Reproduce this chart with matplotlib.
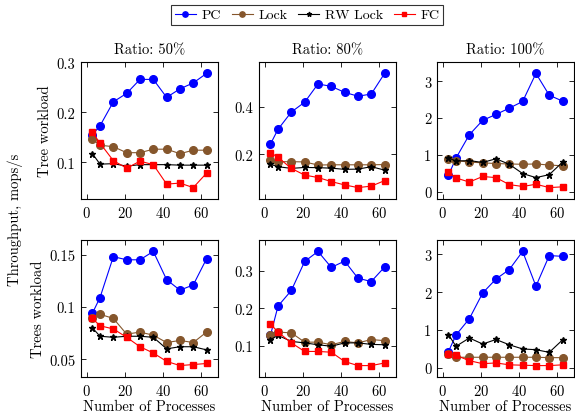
import matplotlib
matplotlib.use("Agg")
import matplotlib.pyplot as plt
from matplotlib.ticker import MultipleLocator, FuncFormatter

plt.rcParams['font.family'] = 'serif'
plt.rcParams['font.serif'] = ['cmr10', 'DejaVu Serif']
plt.rcParams['axes.formatter.use_mathtext'] = True
plt.rcParams['font.size'] = 10.5

procs = [3, 7, 14, 21, 28, 35, 42, 49, 56, 63]
ratios = ['Ratio: 50%', 'Ratio: 80%', 'Ratio: 100%']
workloads = ['Tree workload', 'Trees workload']

# tree workload
pc_tree_50 = [0.155, 0.173, 0.221, 0.238, 0.266, 0.266, 0.230, 0.247, 0.259, 0.278]
lock_tree_50 = [0.146, 0.134, 0.131, 0.119, 0.119, 0.126, 0.126, 0.117, 0.124, 0.124]
rw_tree_50 = [0.117, 0.096, 0.097, 0.092, 0.095, 0.095, 0.095, 0.094, 0.094, 0.094]
fc_tree_50 = [0.160, 0.138, 0.103, 0.088, 0.102, 0.095, 0.056, 0.058, 0.049, 0.078]

pc_tree_80 = [0.243, 0.305, 0.377, 0.418, 0.494, 0.484, 0.459, 0.443, 0.452, 0.538]
lock_tree_80 = [0.179, 0.170, 0.170, 0.169, 0.156, 0.157, 0.157, 0.157, 0.157, 0.158]
rw_tree_80 = [0.159, 0.149, 0.142, 0.146, 0.145, 0.143, 0.138, 0.139, 0.149, 0.135]
fc_tree_80 = [0.208, 0.188, 0.142, 0.114, 0.104, 0.087, 0.073, 0.062, 0.068, 0.091]

pc_tree_100 = [0.45, 0.92, 1.55, 1.94, 2.10, 2.27, 2.45, 3.21, 2.62, 2.46]
lock_tree_100 = [0.90, 0.85, 0.81, 0.79, 0.77, 0.76, 0.75, 0.76, 0.73, 0.71]
rw_tree_100 = [0.92, 0.84, 0.85, 0.80, 0.90, 0.75, 0.50, 0.39, 0.47, 0.81]
fc_tree_100 = [0.54, 0.38, 0.27, 0.42, 0.39, 0.20, 0.15, 0.21, 0.12, 0.14]

# trees workload
pc_trees_50 = [0.094, 0.109, 0.148, 0.145, 0.145, 0.153, 0.126, 0.116, 0.121, 0.146]
lock_trees_50 = [0.089, 0.093, 0.089, 0.074, 0.076, 0.073, 0.066, 0.068, 0.066, 0.076]
rw_trees_50 = [0.080, 0.072, 0.071, 0.072, 0.072, 0.071, 0.060, 0.062, 0.062, 0.059]
fc_trees_50 = [0.089, 0.082, 0.079, 0.071, 0.062, 0.056, 0.048, 0.044, 0.045, 0.046]

pc_trees_80 = [0.127, 0.206, 0.248, 0.326, 0.353, 0.310, 0.327, 0.281, 0.272, 0.311]
lock_trees_80 = [0.127, 0.136, 0.134, 0.109, 0.109, 0.102, 0.111, 0.107, 0.116, 0.113]
rw_trees_80 = [0.116, 0.127, 0.111, 0.107, 0.102, 0.098, 0.107, 0.107, 0.103, 0.102]
fc_trees_80 = [0.158, 0.136, 0.107, 0.084, 0.084, 0.082, 0.057, 0.046, 0.046, 0.053]

pc_trees_100 = [0.43, 0.87, 1.30, 1.98, 2.35, 2.60, 3.08, 2.16, 2.97, 2.95]
lock_trees_100 = [0.37, 0.28, 0.28, 0.28, 0.28, 0.28, 0.28, 0.28, 0.27, 0.27]
rw_trees_100 = [0.88, 0.57, 0.79, 0.63, 0.75, 0.61, 0.50, 0.48, 0.41, 0.74]
fc_trees_100 = [0.37, 0.33, 0.19, 0.11, 0.13, 0.08, 0.07, 0.06, 0.06, 0.08]

panels = [
    [(pc_tree_50, lock_tree_50, rw_tree_50, fc_tree_50),
     (pc_tree_80, lock_tree_80, rw_tree_80, fc_tree_80),
     (pc_tree_100, lock_tree_100, rw_tree_100, fc_tree_100)],
    [(pc_trees_50, lock_trees_50, rw_trees_50, fc_trees_50),
     (pc_trees_80, lock_trees_80, rw_trees_80, fc_trees_80),
     (pc_trees_100, lock_trees_100, rw_trees_100, fc_trees_100)],
]
ystep = [[0.1, 0.2, 1], [0.05, 0.1, 1]]

names = ['PC', 'Lock', 'RW Lock', 'FC']
colors = ['blue', '#85562c', 'black', 'red']
markers = ['o', 'o', '*', 's']
msizes = [5.5, 5.5, 5, 5]

fig = plt.figure(figsize=(5.75, 4.14), dpi=100)
W, H = 575, 414
lefts = [81, 259, 437]
tops = [63, 241]
aw, ah = 137, 137

fmt = FuncFormatter(lambda v, p: '%g' % round(v, 6))
handles = []
for r in range(2):
    for c in range(3):
        ax = fig.add_axes([lefts[c] / W, 1 - (tops[r] + ah) / H, aw / W, ah / H])
        for i, series in enumerate(panels[r][c]):
            h, = ax.plot(procs, series, color=colors[i], marker=markers[i],
                         markersize=msizes[i], linewidth=0.8, label=names[i])
            if r == 0 and c == 0:
                handles.append(h)
        ax.margins(0.1)
        ax.xaxis.set_major_locator(MultipleLocator(20))
        ax.yaxis.set_major_locator(MultipleLocator(ystep[r][c]))
        ax.yaxis.set_major_formatter(fmt)
        ax.tick_params(direction='in', top=True, right=True, length=3.5,
                       width=0.6, labelsize=10.5, pad=4)
        for s in ax.spines.values():
            s.set_linewidth(0.8)
        if r == 0:
            ax.set_title(ratios[c], fontsize=10.5, pad=6)
        else:
            ax.set_xlabel('Number of Processes', fontsize=10.5, labelpad=1)
        if c == 0:
            ax.set_ylabel(workloads[r], fontsize=10.5, labelpad=3)

fig.text(15 / W, 1 - 220 / H, 'Throughput, mops/s', rotation=90,
         ha='center', va='center', fontsize=10.5)

leg = fig.legend(handles=handles, loc='center', ncol=4,
                 bbox_to_anchor=(307 / W, 1 - 16 / H), frameon=True,
                 fancybox=False, edgecolor='black', fontsize=10,
                 handlelength=1.5, columnspacing=0.8, handletextpad=0.4,
                 borderpad=0.25, borderaxespad=0.2, markerscale=0.7)
leg.get_frame().set_linewidth(0.8)

fig.savefig('out.png', dpi=100)
